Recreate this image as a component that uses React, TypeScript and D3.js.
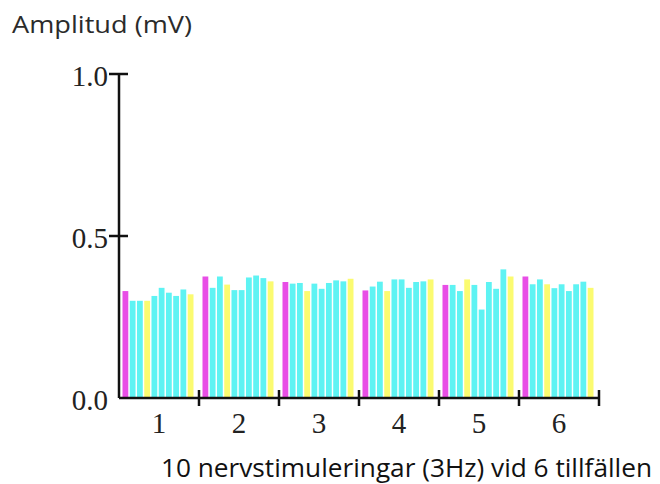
import React, { useEffect, useRef } from 'react';
import * as d3 from 'd3';

// tillfällen (groups) and stimulus colour pattern
const occasions = ['1', '2', '3', '4', '5', '6'];
const stimuli = [0, 1, 2, 3, 4, 5, 6, 7, 8, 9];
const stimulusKind = ['m', 'c', 'c', 'y', 'c', 'c', 'c', 'c', 'c', 'y'];

// amplitudes (mV) per occasion, 10 stimulations each
const occ1 = [0.33, 0.30, 0.30, 0.30, 0.315, 0.34, 0.325, 0.315, 0.335, 0.32];
const occ2 = [0.375, 0.34, 0.375, 0.35, 0.333, 0.333, 0.372, 0.378, 0.37, 0.36];
const occ3 = [0.358, 0.353, 0.355, 0.33, 0.353, 0.337, 0.355, 0.363, 0.36, 0.368];
const occ4 = [0.332, 0.344, 0.359, 0.33, 0.366, 0.366, 0.34, 0.358, 0.36, 0.366];
const occ5 = [0.349, 0.349, 0.33, 0.366, 0.349, 0.273, 0.358, 0.337, 0.397, 0.375];
const occ6 = [0.375, 0.351, 0.366, 0.351, 0.339, 0.351, 0.33, 0.351, 0.359, 0.34];
const amplitudes = [occ1, occ2, occ3, occ4, occ5, occ6];

const yTicks = [0, 0.5, 1.0];

const colorOf: Record<string, string> = {
  m: '#e84ee6',
  c: '#5ef3f3',
  y: '#fbfb70',
};

const App: React.FC = () => {
  const svgRef = useRef<SVGSVGElement | null>(null);

  useEffect(() => {
    if (!svgRef.current) return;
    const svg = d3.select(svgRef.current);
    svg.selectAll('*').remove();

    const left = 119;
    const right = 599;

    const x = d3.scaleBand<string>().domain(occasions).range([left, right]).padding(0);
    const inner = d3.scaleBand<number>()
      .domain(stimuli)
      .range([3.5, 74.5])
      .paddingInner(0.2);
    const y = d3.scaleLinear().domain([0, 1]).range([398, 74]);

    // bars
    const groups = svg.append('g')
      .selectAll('g')
      .data(occasions)
      .join('g')
      .attr('transform', d => `translate(${x(d)},0)`);

    groups.selectAll('rect')
      .data((d, i) => amplitudes[i].map((v, j) => ({ v, j })))
      .join('rect')
      .attr('x', d => inner(d.j) as number)
      .attr('width', inner.bandwidth())
      .attr('y', d => y(d.v))
      .attr('height', d => y(0) - y(d.v))
      .attr('fill', d => colorOf[stimulusKind[d.j]]);

    const axis = svg.append('g').attr('stroke', '#111').attr('stroke-width', 2.5);

    // y axis
    axis.append('line')
      .attr('x1', left).attr('x2', left)
      .attr('y1', y(1)).attr('y2', y(0));
    axis.selectAll('.ytick')
      .data(yTicks.filter(t => t > 0))
      .join('line')
      .attr('class', 'ytick')
      .attr('x1', left - 10).attr('x2', left + 9)
      .attr('y1', d => y(d)).attr('y2', d => y(d));

    // x axis
    axis.append('line')
      .attr('x1', left).attr('x2', right)
      .attr('y1', y(0)).attr('y2', y(0));
    axis.selectAll('.xtick')
      .data(occasions)
      .join('line')
      .attr('class', 'xtick')
      .attr('x1', d => (x(d) as number) + x.bandwidth())
      .attr('x2', d => (x(d) as number) + x.bandwidth())
      .attr('y1', y(0) - 8).attr('y2', y(0) + 8);

    // tick labels
    svg.append('g')
      .selectAll('text')
      .data(yTicks)
      .join('text')
      .attr('x', left - 11)
      .attr('y', d => y(d) + 2)
      .attr('dy', '0.35em')
      .attr('text-anchor', 'end')
      .attr('font-family', '"Liberation Serif", serif')
      .attr('font-size', 29)
      .attr('fill', '#222')
      .text(d => d3.format('.1f')(d));

    svg.append('g')
      .selectAll('text')
      .data(occasions)
      .join('text')
      .attr('x', d => (x(d) as number) + x.bandwidth() / 2)
      .attr('y', 433)
      .attr('text-anchor', 'middle')
      .attr('font-family', '"Liberation Serif", serif')
      .attr('font-size', 29)
      .attr('fill', '#222')
      .text(d => d);

    // titles
    svg.append('text')
      .attr('x', 12)
      .attr('y', 33)
      .attr('font-family', '"Open Sans", sans-serif')
      .attr('font-size', 23)
      .attr('textLength', 180)
      .attr('lengthAdjust', 'spacingAndGlyphs')
      .attr('fill', '#2b2b2b')
      .text('Amplitud (mV)');

    svg.append('text')
      .attr('x', 161)
      .attr('y', 477)
      .attr('font-family', '"Open Sans", sans-serif')
      .attr('font-size', 25)
      .attr('textLength', 491)
      .attr('lengthAdjust', 'spacingAndGlyphs')
      .attr('fill', '#111')
      .text('10 nervstimuleringar (3Hz) vid 6 tillfällen');
  }, []);

  return (
    <svg
      ref={svgRef}
      width={660}
      height={484}
      viewBox="0 0 660 484"
      style={{ position: 'absolute', left: 0, top: 0, background: '#fff' }}
    />
  );
};

export default App;
